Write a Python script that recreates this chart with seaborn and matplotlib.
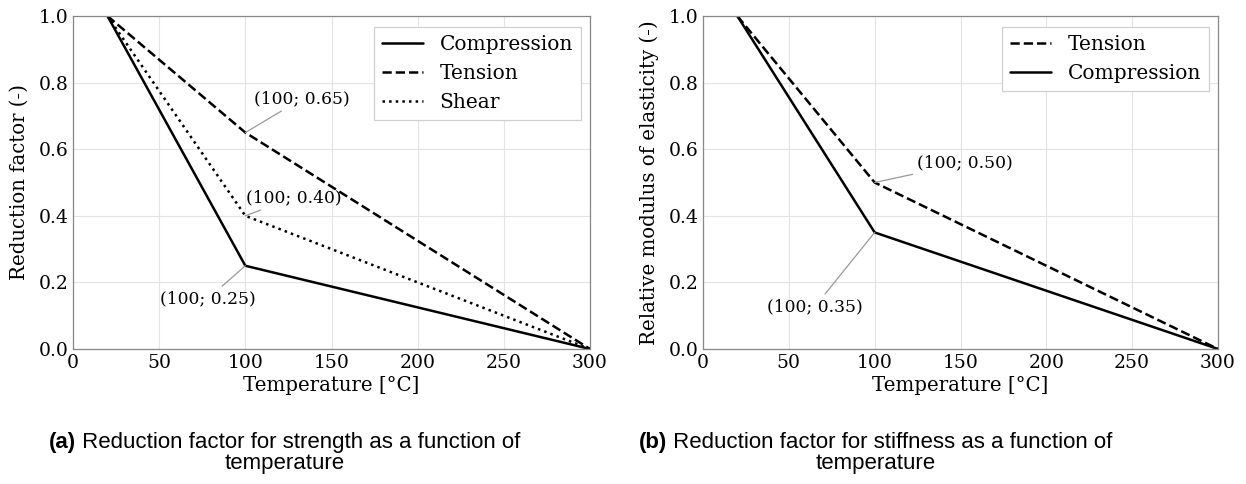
import matplotlib
matplotlib.use("Agg")
import matplotlib.pyplot as plt
import seaborn as sns
import pandas as pd

temps = [20, 100, 300]
strength_compression = [1.0, 0.25, 0.0]
strength_tension = [1.0, 0.65, 0.0]
strength_shear = [1.0, 0.40, 0.0]
stiff_tension = [1.0, 0.50, 0.0]
stiff_compression = [1.0, 0.35, 0.0]

sns.set_style("whitegrid", {"grid.color": "#e3e3e3", "axes.edgecolor": "#888888",
                            "text.color": "black", "axes.labelcolor": "black",
                            "xtick.color": "black", "ytick.color": "black"})
plt.rcParams["font.family"] = ["DejaVu Serif"]
plt.rcParams["axes.linewidth"] = 0.9

FS_TICK = 13.5
FS_LAB = 14.2
FS_LEG = 14.5

W, H = 1246, 484
fig = plt.figure(figsize=(W / 100, H / 100), dpi=100)
ax_a = fig.add_axes([73 / W, 1 - 349 / H, 517 / W, 333 / H])
ax_b = fig.add_axes([703 / W, 1 - 349 / H, 515 / W, 333 / H])

def draw(ax, series):
    for name, vals, ls in series:
        df = pd.DataFrame({"T": temps, "v": vals})
        sns.lineplot(data=df, x="T", y="v", ax=ax, color="black", linestyle=ls,
                     lw=1.8, label=name)
    ax.set_xlim(0, 300)
    ax.set_ylim(0, 1.0)
    ax.set_xticks([0, 50, 100, 150, 200, 250, 300])
    ax.set_yticks([0.0, 0.2, 0.4, 0.6, 0.8, 1.0])
    ax.tick_params(labelsize=FS_TICK, length=0)
    ax.tick_params(axis="x", pad=3.5)
    ax.tick_params(axis="y", pad=3.5)
    ax.set_xlabel("Temperature [°C]", fontsize=FS_LAB, labelpad=3)
    bw = ax.bbox.width
    bh = ax.bbox.height
    leg = ax.legend(loc="upper right", bbox_to_anchor=(1 - 9 / bw, 1 - 11 / bh),
                    borderaxespad=0, fontsize=FS_LEG, fancybox=False, framealpha=1,
                    edgecolor="#d0d0d0", handlelength=2.05, handletextpad=0.8,
                    labelspacing=0.5, borderpad=0.4)
    leg.get_frame().set_linewidth(0.9)

def note(ax, x, y, txt, dx, dy):
    ax.annotate(txt, xy=(x, y), xytext=(dx, dy), textcoords="offset pixels",
                ha="center", va="center", fontsize=12.3,
                arrowprops=dict(arrowstyle="-", color="#999999", lw=0.9,
                                shrinkA=1, shrinkB=0))

draw(ax_a, [("Compression", strength_compression, "-"),
            ("Tension", strength_tension, "--"),
            ("Shear", strength_shear, ":")])
ax_a.set_ylabel("Reduction factor (-)", fontsize=FS_LAB, labelpad=7)
note(ax_a, temps[1], strength_tension[1], "(100; 0.65)", 57, 34)
note(ax_a, temps[1], strength_shear[1], "(100; 0.40)", 48.5, 18)
note(ax_a, temps[1], strength_compression[1], "(100; 0.25)", -37.5, -33)

draw(ax_b, [("Tension", stiff_tension, "--"),
            ("Compression", stiff_compression, "-")])
ax_b.set_ylabel("Relative modulus of elasticity (-)", fontsize=FS_LAB, labelpad=7)
note(ax_b, temps[1], stiff_tension[1], "(100; 0.50)", 90.5, 19.5)
note(ax_b, temps[1], stiff_compression[1], "(100; 0.35)", -60, -74.5)

cap_font = ["Liberation Sans", "DejaVu Sans"]
CFS = 16
for cx, lab, rest in [(285 / W, "(a)", " Reduction factor for strength as a function of"),
                      (876 / W, "(b)", " Reduction factor for stiffness as a function of")]:
    t1 = fig.text(0, 0, lab, fontsize=CFS, fontweight="bold", family=cap_font)
    t2 = fig.text(0, 0, rest, fontsize=CFS, family=cap_font)
    fig.canvas.draw()
    r = fig.canvas.get_renderer()
    w1 = t1.get_window_extent(r).width / fig.bbox.width
    w2 = t2.get_window_extent(r).width / fig.bbox.width
    x0 = cx - (w1 + w2) / 2
    t1.set_position((x0, 0.074))
    t2.set_position((x0 + w1, 0.074))
    t1.set_va("baseline"); t2.set_va("baseline")
    fig.text(cx, 0.031, "temperature", fontsize=CFS, family=cap_font, ha="center", va="baseline")

fig.savefig("out.png", dpi=100)
